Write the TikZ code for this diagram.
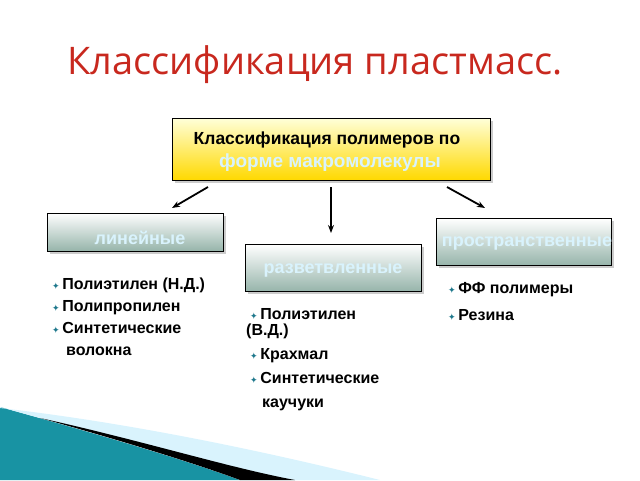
\documentclass[tikz,border=0pt]{standalone}
\usepackage{fontspec}
\setmainfont{Liberation Sans}
\newfontfamily\titlefont{Open Sans}
\newfontfamily\symfont{DejaVu Sans}
\usepackage{xcolor}
\usetikzlibrary{arrows.meta,positioning,shadows}
\definecolor{titlered}{RGB}{200,40,30}
\definecolor{plteal}{RGB}{30,120,140}
\definecolor{boxgrey}{RGB}{150,180,170}
\newcommand{\bul}{{\symfont\color{plteal}\small ✦}\,}

\begin{document}
\begin{tikzpicture}[x=1pt, y=-1pt,
    kind/.style={rectangle, draw=black, line width=1pt, top color=white,
                 bottom color=boxgrey, drop shadow={opacity=0.4}},
    kindtext/.style={font=\bfseries\fontsize{18}{18}\selectfont, text=white!85!cyan},
    root/.style={rectangle, draw=black, line width=1pt, top color=yellow!15,
                 bottom color=yellow!70!orange, drop shadow={opacity=0.4}},
    items/.style={align=left, anchor=north west, inner sep=0pt,
                  font=\bfseries\fontsize{16}{22}\selectfont},
    arrow/.style={-{Stealth[length=8pt]}, line width=1.8pt}
]
\useasboundingbox (0,0) rectangle (640,480);

% Swoosh
\fill[plteal!80!cyan] (0,407) .. controls (120,440) and (200,465) .. (240,480) -- (0,480) -- cycle;
\fill[cyan!15] (0,408) .. controls (150,425) and (300,460) .. (380,480) -- (240,480) .. controls (200,465) and (120,440) .. (0,407) -- cycle;
\fill[black] (40,418) .. controls (140,440) and (230,468) .. (295,480) -- (240,480) .. controls (200,465) and (120,440) .. (40,418) -- cycle;

% Title
\node[font=\titlefont\fontsize{38}{38}\selectfont, text=titlered] (title) at (315,65) {Классификация пластмасс.};

% Boxes
\node[root, minimum width=318pt, minimum height=62pt] (top) at (331,149) {};
\node[font=\bfseries\fontsize{17.5}{17.5}\selectfont] (toptext) at (327,140) {Классификация полимеров по};
\node[font=\bfseries\fontsize{19}{19}\selectfont, text=white!85!cyan] (topsub) at (330,163) {форме макромолекулы};
\node[kind, minimum width=176pt, minimum height=38pt] (lin) at (135,232) {};
\node[kindtext] (lintext) at (140,238) {линейные};
\node[kind, minimum width=176pt, minimum height=47pt] (branch) at (333,268) {};
\node[kindtext] (branchtext) at (333,271) {разветвленные};
\node[kind, minimum width=175pt, minimum height=47pt] (space) at (524,242) {};
\node[kindtext] (spacetext) at (527,244) {пространственные};

% Arrows
\coordinate (a1) at (208,187);
\coordinate (a2) at (331,187);
\coordinate (a3) at (447,187);
\coordinate (b1) at (172,208);
\coordinate (b2) at (331,233);
\coordinate (b3) at (485,208);
\draw[arrow] (a1) -- (b1);
\draw[arrow] (a2) -- (b2);
\draw[arrow] (a3) -- (b3);

% Lists
\node[items] (linlist) at (52,278) {\bul Полиэтилен (Н.Д.)\\ \bul Полипропилен\\ \bul Синтетические\\ \hspace{14pt}волокна};
\node[items, font=\bfseries\fontsize{16}{24}\selectfont] (branchlist) at (246,308) {\hspace{4pt}\bul Полиэтилен\\[-8pt](В.Д.)\\ \hspace{4pt}\bul Крахмал\\ \hspace{4pt}\bul Синтетические\\ \hspace{16pt}каучуки};
\node[items, font=\bfseries\fontsize{16}{27}\selectfont] (spacelist) at (448,282) {\bul ФФ полимеры\\ \bul Резина};
\end{tikzpicture}
\end{document}
